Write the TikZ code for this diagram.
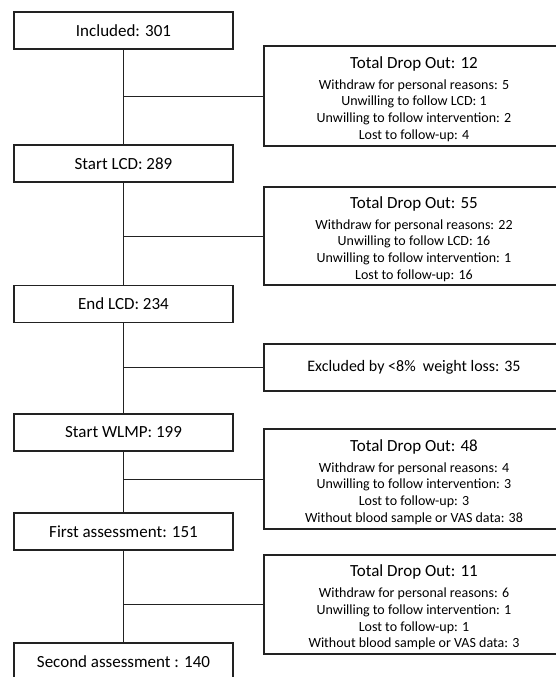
\documentclass[tikz,border=0pt]{standalone}
\usepackage{fontspec}
\setmainfont{Carlito}
\usepackage{xcolor}
\definecolor{DarkGrey}{HTML}{222222}
\usetikzlibrary{positioning}
\newcommand\StageWidth{219pt}
\newcommand\StageHeight{37pt}
\newcommand\DropWidth{300pt}
\newcommand\LeftX{123.5}
\newcommand\RightX{414}
\tikzstyle{stage}=[rectangle,draw=DarkGrey,line width=1.1pt,text centered,
                     minimum height=\StageHeight,minimum width=\StageWidth,
                     font=\fontsize{17}{20}\selectfont]
\tikzstyle{dropout}=[rectangle,draw=DarkGrey,line width=1.3pt,align=center,
                     minimum width=\DropWidth,inner sep=0pt,
                     font=\fontsize{14}{16.7}\selectfont]
\tikzstyle{link}=[draw=DarkGrey,line width=0.8pt]
\newcommand\DropTitle[1]{{\fontsize{17}{20}\selectfont\rule{0pt}{18pt}#1}}

\begin{document}
\begin{tikzpicture}[x=1pt,y=1pt]
      \useasboundingbox (0,0) rectangle (556,-677);
      \clip (0,0) rectangle (556,-677);
      % stages on the left
      \node[stage] (included) at (\LeftX,-30.5) {Included: 301};
      \node[stage] (startlcd) at (\LeftX,-163.5) {Start LCD: 289};
      \node[stage] (endlcd) at (\LeftX,-304) {End LCD: 234};
      \node[stage] (startwlmp) at (\LeftX,-432.5) {Start WLMP: 199};
      \node[stage] (firstass) at (\LeftX,-531.5) {First assessment: 151};
      \node[stage] (secondass) at (\LeftX,-661.5) {Second assessment : 140};
      % drop outs on the right
      \node[dropout,minimum height=100pt] (dropa) at (\RightX,-96) {\DropTitle{Total Drop Out: 12}\\[4pt]
            Withdraw for personal reasons: 5\\ Unwilling to follow LCD: 1\\
            Unwilling to follow intervention: 2\\ Lost to follow-up: 4};
      \node[dropout,minimum height=98pt] (dropb) at (\RightX,-236) {\DropTitle{Total Drop Out: 55}\\[4pt]
            Withdraw for personal reasons: 22\\ Unwilling to follow LCD: 16\\
            Unwilling to follow intervention: 1\\ Lost to follow-up: 16};
      \node[dropout,minimum height=47pt,font=\fontsize{16}{19}\selectfont] (excl) at (\RightX,-367.5)
            {Excluded by {<}8\%\ \ weight loss: 35};
      \node[dropout,minimum height=100pt] (dropc) at (\RightX,-479) {\DropTitle{Total Drop Out: 48}\\[4pt]
            Withdraw for personal reasons: 4\\ Unwilling to follow intervention: 3\\
            Lost to follow-up: 3\\ Without blood sample or VAS data: 38};
      \node[dropout,minimum height=99pt] (dropd) at (\RightX,-604.5) {\DropTitle{Total Drop Out: 11}\\[4pt]
            Withdraw for personal reasons: 6\\ Unwilling to follow intervention: 1\\
            Lost to follow-up: 1\\ Without blood sample or VAS data: 3};
      % connectors
      \draw[link] (included) -- (startlcd);
      \draw[link] (startlcd) -- (endlcd);
      \draw[link] (endlcd) -- (startwlmp);
      \draw[link] (startwlmp) -- (firstass);
      \draw[link] (firstass) -- (secondass);
      \draw[link] (dropa.west) -- (dropa.west -| included.south);
      \draw[link] (dropb.west) -- (dropb.west -| startlcd.south);
      \draw[link] (excl.west) -- (excl.west -| endlcd.south);
      \draw[link] (dropc.west) -- (dropc.west -| startwlmp.south);
      \draw[link] (dropd.west) -- (dropd.west -| firstass.south);
   \end{tikzpicture}
\end{document}
